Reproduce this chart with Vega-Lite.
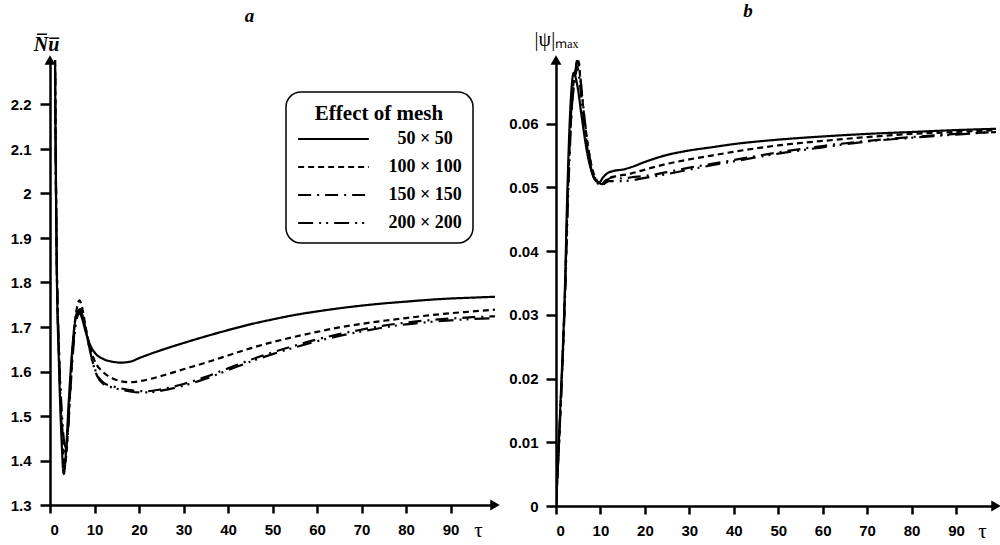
{
  "$schema": "https://vega.github.io/schema/vega-lite/v6.json",
  "background": "white",
  "padding": {"left": 10, "right": 0, "top": 2, "bottom": 0},
  "spacing": 8,
  "config": {
    "view": {"stroke": null},
    "axis": {
      "grid": false,
      "domainColor": "#000000",
      "domainWidth": 2.5,
      "tickColor": "#000000",
      "tickWidth": 2.5,
      "labelFont": "Arial, Liberation Sans, sans-serif",
      "labelFontWeight": "bold",
      "labelFontSize": 15,
      "labelColor": "#000000"
    },
    "title": {"font": "Liberation Serif", "fontSize": 19, "fontWeight": "bold", "fontStyle": "italic", "color": "black"}
  },
  "datasets": {
    "nu": [
      {"tau": 0.8, "nu": 3.0, "mesh": "50 × 50"},
      {"tau": 1.2, "nu": 2.2, "mesh": "50 × 50"},
      {"tau": 1.5, "nu": 1.85, "mesh": "50 × 50"},
      {"tau": 2.0, "nu": 1.62, "mesh": "50 × 50"},
      {"tau": 2.5, "nu": 1.47, "mesh": "50 × 50"},
      {"tau": 3.1, "nu": 1.37, "mesh": "50 × 50"},
      {"tau": 3.6, "nu": 1.42, "mesh": "50 × 50"},
      {"tau": 4.2, "nu": 1.53, "mesh": "50 × 50"},
      {"tau": 5.0, "nu": 1.65, "mesh": "50 × 50"},
      {"tau": 5.6, "nu": 1.71, "mesh": "50 × 50"},
      {"tau": 6.2, "nu": 1.735, "mesh": "50 × 50"},
      {"tau": 7.0, "nu": 1.725, "mesh": "50 × 50"},
      {"tau": 8, "nu": 1.69, "mesh": "50 × 50"},
      {"tau": 9, "nu": 1.66, "mesh": "50 × 50"},
      {"tau": 10, "nu": 1.643, "mesh": "50 × 50"},
      {"tau": 12, "nu": 1.628, "mesh": "50 × 50"},
      {"tau": 14, "nu": 1.622, "mesh": "50 × 50"},
      {"tau": 16, "nu": 1.62, "mesh": "50 × 50"},
      {"tau": 18, "nu": 1.622, "mesh": "50 × 50"},
      {"tau": 20, "nu": 1.63, "mesh": "50 × 50"},
      {"tau": 25, "nu": 1.648, "mesh": "50 × 50"},
      {"tau": 30, "nu": 1.664, "mesh": "50 × 50"},
      {"tau": 35, "nu": 1.679, "mesh": "50 × 50"},
      {"tau": 40, "nu": 1.693, "mesh": "50 × 50"},
      {"tau": 45, "nu": 1.706, "mesh": "50 × 50"},
      {"tau": 50, "nu": 1.717, "mesh": "50 × 50"},
      {"tau": 55, "nu": 1.727, "mesh": "50 × 50"},
      {"tau": 60, "nu": 1.735, "mesh": "50 × 50"},
      {"tau": 65, "nu": 1.742, "mesh": "50 × 50"},
      {"tau": 70, "nu": 1.748, "mesh": "50 × 50"},
      {"tau": 75, "nu": 1.753, "mesh": "50 × 50"},
      {"tau": 80, "nu": 1.757, "mesh": "50 × 50"},
      {"tau": 85, "nu": 1.761, "mesh": "50 × 50"},
      {"tau": 90, "nu": 1.764, "mesh": "50 × 50"},
      {"tau": 95, "nu": 1.766, "mesh": "50 × 50"},
      {"tau": 100, "nu": 1.768, "mesh": "50 × 50"},

      {"tau": 0.8, "nu": 3.0, "mesh": "100 × 100"},
      {"tau": 1.2, "nu": 2.2, "mesh": "100 × 100"},
      {"tau": 1.5, "nu": 1.86, "mesh": "100 × 100"},
      {"tau": 2.0, "nu": 1.64, "mesh": "100 × 100"},
      {"tau": 2.6, "nu": 1.48, "mesh": "100 × 100"},
      {"tau": 3.3, "nu": 1.39, "mesh": "100 × 100"},
      {"tau": 3.8, "nu": 1.43, "mesh": "100 × 100"},
      {"tau": 4.4, "nu": 1.54, "mesh": "100 × 100"},
      {"tau": 5.2, "nu": 1.67, "mesh": "100 × 100"},
      {"tau": 6.0, "nu": 1.74, "mesh": "100 × 100"},
      {"tau": 6.6, "nu": 1.76, "mesh": "100 × 100"},
      {"tau": 7.3, "nu": 1.74, "mesh": "100 × 100"},
      {"tau": 8, "nu": 1.70, "mesh": "100 × 100"},
      {"tau": 9, "nu": 1.655, "mesh": "100 × 100"},
      {"tau": 10, "nu": 1.625, "mesh": "100 × 100"},
      {"tau": 12, "nu": 1.598, "mesh": "100 × 100"},
      {"tau": 14, "nu": 1.585, "mesh": "100 × 100"},
      {"tau": 16, "nu": 1.578, "mesh": "100 × 100"},
      {"tau": 18, "nu": 1.576, "mesh": "100 × 100"},
      {"tau": 20, "nu": 1.578, "mesh": "100 × 100"},
      {"tau": 25, "nu": 1.59, "mesh": "100 × 100"},
      {"tau": 30, "nu": 1.605, "mesh": "100 × 100"},
      {"tau": 35, "nu": 1.62, "mesh": "100 × 100"},
      {"tau": 40, "nu": 1.636, "mesh": "100 × 100"},
      {"tau": 45, "nu": 1.652, "mesh": "100 × 100"},
      {"tau": 50, "nu": 1.666, "mesh": "100 × 100"},
      {"tau": 55, "nu": 1.678, "mesh": "100 × 100"},
      {"tau": 60, "nu": 1.689, "mesh": "100 × 100"},
      {"tau": 65, "nu": 1.699, "mesh": "100 × 100"},
      {"tau": 70, "nu": 1.707, "mesh": "100 × 100"},
      {"tau": 75, "nu": 1.714, "mesh": "100 × 100"},
      {"tau": 80, "nu": 1.72, "mesh": "100 × 100"},
      {"tau": 85, "nu": 1.726, "mesh": "100 × 100"},
      {"tau": 90, "nu": 1.731, "mesh": "100 × 100"},
      {"tau": 95, "nu": 1.735, "mesh": "100 × 100"},
      {"tau": 100, "nu": 1.739, "mesh": "100 × 100"},

      {"tau": 0.8, "nu": 3.0, "mesh": "150 × 150"},
      {"tau": 1.2, "nu": 2.2, "mesh": "150 × 150"},
      {"tau": 1.5, "nu": 1.87, "mesh": "150 × 150"},
      {"tau": 2.0, "nu": 1.65, "mesh": "150 × 150"},
      {"tau": 2.6, "nu": 1.50, "mesh": "150 × 150"},
      {"tau": 3.3, "nu": 1.42, "mesh": "150 × 150"},
      {"tau": 3.9, "nu": 1.45, "mesh": "150 × 150"},
      {"tau": 4.5, "nu": 1.55, "mesh": "150 × 150"},
      {"tau": 5.3, "nu": 1.67, "mesh": "150 × 150"},
      {"tau": 6.1, "nu": 1.73, "mesh": "150 × 150"},
      {"tau": 6.8, "nu": 1.74, "mesh": "150 × 150"},
      {"tau": 7.5, "nu": 1.72, "mesh": "150 × 150"},
      {"tau": 8.5, "nu": 1.67, "mesh": "150 × 150"},
      {"tau": 9.5, "nu": 1.625, "mesh": "150 × 150"},
      {"tau": 10.5, "nu": 1.595, "mesh": "150 × 150"},
      {"tau": 12, "nu": 1.575, "mesh": "150 × 150"},
      {"tau": 14, "nu": 1.567, "mesh": "150 × 150"},
      {"tau": 16, "nu": 1.562, "mesh": "150 × 150"},
      {"tau": 18, "nu": 1.558, "mesh": "150 × 150"},
      {"tau": 20, "nu": 1.556, "mesh": "150 × 150"},
      {"tau": 22, "nu": 1.556, "mesh": "150 × 150"},
      {"tau": 25, "nu": 1.56, "mesh": "150 × 150"},
      {"tau": 30, "nu": 1.572, "mesh": "150 × 150"},
      {"tau": 35, "nu": 1.588, "mesh": "150 × 150"},
      {"tau": 40, "nu": 1.607, "mesh": "150 × 150"},
      {"tau": 45, "nu": 1.626, "mesh": "150 × 150"},
      {"tau": 50, "nu": 1.643, "mesh": "150 × 150"},
      {"tau": 55, "nu": 1.658, "mesh": "150 × 150"},
      {"tau": 60, "nu": 1.672, "mesh": "150 × 150"},
      {"tau": 65, "nu": 1.684, "mesh": "150 × 150"},
      {"tau": 70, "nu": 1.694, "mesh": "150 × 150"},
      {"tau": 75, "nu": 1.703, "mesh": "150 × 150"},
      {"tau": 80, "nu": 1.71, "mesh": "150 × 150"},
      {"tau": 85, "nu": 1.715, "mesh": "150 × 150"},
      {"tau": 90, "nu": 1.719, "mesh": "150 × 150"},
      {"tau": 95, "nu": 1.722, "mesh": "150 × 150"},
      {"tau": 100, "nu": 1.724, "mesh": "150 × 150"},

      {"tau": 0.8, "nu": 3.0, "mesh": "200 × 200"},
      {"tau": 1.2, "nu": 2.2, "mesh": "200 × 200"},
      {"tau": 1.5, "nu": 1.87, "mesh": "200 × 200"},
      {"tau": 2.0, "nu": 1.66, "mesh": "200 × 200"},
      {"tau": 2.7, "nu": 1.50, "mesh": "200 × 200"},
      {"tau": 3.5, "nu": 1.43, "mesh": "200 × 200"},
      {"tau": 4.0, "nu": 1.46, "mesh": "200 × 200"},
      {"tau": 4.6, "nu": 1.56, "mesh": "200 × 200"},
      {"tau": 5.4, "nu": 1.67, "mesh": "200 × 200"},
      {"tau": 6.2, "nu": 1.725, "mesh": "200 × 200"},
      {"tau": 6.9, "nu": 1.735, "mesh": "200 × 200"},
      {"tau": 7.6, "nu": 1.715, "mesh": "200 × 200"},
      {"tau": 8.6, "nu": 1.665, "mesh": "200 × 200"},
      {"tau": 9.6, "nu": 1.62, "mesh": "200 × 200"},
      {"tau": 10.6, "nu": 1.59, "mesh": "200 × 200"},
      {"tau": 12, "nu": 1.572, "mesh": "200 × 200"},
      {"tau": 14, "nu": 1.564, "mesh": "200 × 200"},
      {"tau": 16, "nu": 1.559, "mesh": "200 × 200"},
      {"tau": 18, "nu": 1.555, "mesh": "200 × 200"},
      {"tau": 20, "nu": 1.553, "mesh": "200 × 200"},
      {"tau": 22, "nu": 1.553, "mesh": "200 × 200"},
      {"tau": 25, "nu": 1.557, "mesh": "200 × 200"},
      {"tau": 30, "nu": 1.568, "mesh": "200 × 200"},
      {"tau": 35, "nu": 1.584, "mesh": "200 × 200"},
      {"tau": 40, "nu": 1.603, "mesh": "200 × 200"},
      {"tau": 45, "nu": 1.622, "mesh": "200 × 200"},
      {"tau": 50, "nu": 1.639, "mesh": "200 × 200"},
      {"tau": 55, "nu": 1.654, "mesh": "200 × 200"},
      {"tau": 60, "nu": 1.668, "mesh": "200 × 200"},
      {"tau": 65, "nu": 1.68, "mesh": "200 × 200"},
      {"tau": 70, "nu": 1.69, "mesh": "200 × 200"},
      {"tau": 75, "nu": 1.699, "mesh": "200 × 200"},
      {"tau": 80, "nu": 1.706, "mesh": "200 × 200"},
      {"tau": 85, "nu": 1.711, "mesh": "200 × 200"},
      {"tau": 90, "nu": 1.715, "mesh": "200 × 200"},
      {"tau": 95, "nu": 1.718, "mesh": "200 × 200"},
      {"tau": 100, "nu": 1.72, "mesh": "200 × 200"}
    ],
    "psi": [
      {"tau": 0, "psi": 0, "mesh": "50 × 50"},
      {"tau": 1, "psi": 0.016, "mesh": "50 × 50"},
      {"tau": 2, "psi": 0.034, "mesh": "50 × 50"},
      {"tau": 2.5, "psi": 0.048, "mesh": "50 × 50"},
      {"tau": 3.2, "psi": 0.062, "mesh": "50 × 50"},
      {"tau": 4.0, "psi": 0.068, "mesh": "50 × 50"},
      {"tau": 4.8, "psi": 0.066, "mesh": "50 × 50"},
      {"tau": 5.8, "psi": 0.061, "mesh": "50 × 50"},
      {"tau": 7.0, "psi": 0.0555, "mesh": "50 × 50"},
      {"tau": 8.0, "psi": 0.0525, "mesh": "50 × 50"},
      {"tau": 9.0, "psi": 0.051, "mesh": "50 × 50"},
      {"tau": 9.8, "psi": 0.0508, "mesh": "50 × 50"},
      {"tau": 10.5, "psi": 0.0515, "mesh": "50 × 50"},
      {"tau": 11.5, "psi": 0.0522, "mesh": "50 × 50"},
      {"tau": 13, "psi": 0.0526, "mesh": "50 × 50"},
      {"tau": 15, "psi": 0.0528, "mesh": "50 × 50"},
      {"tau": 17, "psi": 0.0532, "mesh": "50 × 50"},
      {"tau": 20, "psi": 0.054, "mesh": "50 × 50"},
      {"tau": 25, "psi": 0.0551, "mesh": "50 × 50"},
      {"tau": 30, "psi": 0.0558, "mesh": "50 × 50"},
      {"tau": 35, "psi": 0.0563, "mesh": "50 × 50"},
      {"tau": 40, "psi": 0.0568, "mesh": "50 × 50"},
      {"tau": 50, "psi": 0.0575, "mesh": "50 × 50"},
      {"tau": 60, "psi": 0.058, "mesh": "50 × 50"},
      {"tau": 70, "psi": 0.0584, "mesh": "50 × 50"},
      {"tau": 80, "psi": 0.0587, "mesh": "50 × 50"},
      {"tau": 90, "psi": 0.059, "mesh": "50 × 50"},
      {"tau": 99, "psi": 0.0592, "mesh": "50 × 50"},

      {"tau": 0, "psi": 0, "mesh": "100 × 100"},
      {"tau": 1, "psi": 0.015, "mesh": "100 × 100"},
      {"tau": 2, "psi": 0.033, "mesh": "100 × 100"},
      {"tau": 2.7, "psi": 0.05, "mesh": "100 × 100"},
      {"tau": 3.5, "psi": 0.063, "mesh": "100 × 100"},
      {"tau": 4.3, "psi": 0.068, "mesh": "100 × 100"},
      {"tau": 4.9, "psi": 0.0702, "mesh": "100 × 100"},
      {"tau": 5.5, "psi": 0.067, "mesh": "100 × 100"},
      {"tau": 6.2, "psi": 0.062, "mesh": "100 × 100"},
      {"tau": 7.2, "psi": 0.0565, "mesh": "100 × 100"},
      {"tau": 8.2, "psi": 0.0528, "mesh": "100 × 100"},
      {"tau": 9.2, "psi": 0.0511, "mesh": "100 × 100"},
      {"tau": 10.2, "psi": 0.0504, "mesh": "100 × 100"},
      {"tau": 11, "psi": 0.051, "mesh": "100 × 100"},
      {"tau": 12, "psi": 0.0515, "mesh": "100 × 100"},
      {"tau": 14, "psi": 0.0518, "mesh": "100 × 100"},
      {"tau": 17, "psi": 0.0522, "mesh": "100 × 100"},
      {"tau": 20, "psi": 0.0528, "mesh": "100 × 100"},
      {"tau": 25, "psi": 0.0537, "mesh": "100 × 100"},
      {"tau": 30, "psi": 0.0544, "mesh": "100 × 100"},
      {"tau": 35, "psi": 0.055, "mesh": "100 × 100"},
      {"tau": 40, "psi": 0.0556, "mesh": "100 × 100"},
      {"tau": 50, "psi": 0.0566, "mesh": "100 × 100"},
      {"tau": 60, "psi": 0.0573, "mesh": "100 × 100"},
      {"tau": 70, "psi": 0.0579, "mesh": "100 × 100"},
      {"tau": 80, "psi": 0.0584, "mesh": "100 × 100"},
      {"tau": 90, "psi": 0.0587, "mesh": "100 × 100"},
      {"tau": 99, "psi": 0.059, "mesh": "100 × 100"},

      {"tau": 0, "psi": 0, "mesh": "150 × 150"},
      {"tau": 1, "psi": 0.015, "mesh": "150 × 150"},
      {"tau": 2, "psi": 0.033, "mesh": "150 × 150"},
      {"tau": 2.7, "psi": 0.05, "mesh": "150 × 150"},
      {"tau": 3.5, "psi": 0.062, "mesh": "150 × 150"},
      {"tau": 4.3, "psi": 0.067, "mesh": "150 × 150"},
      {"tau": 4.8, "psi": 0.069, "mesh": "150 × 150"},
      {"tau": 5.4, "psi": 0.066, "mesh": "150 × 150"},
      {"tau": 6.2, "psi": 0.061, "mesh": "150 × 150"},
      {"tau": 7.2, "psi": 0.0555, "mesh": "150 × 150"},
      {"tau": 8.2, "psi": 0.0522, "mesh": "150 × 150"},
      {"tau": 9.2, "psi": 0.0508, "mesh": "150 × 150"},
      {"tau": 10.3, "psi": 0.0503, "mesh": "150 × 150"},
      {"tau": 11.5, "psi": 0.0512, "mesh": "150 × 150"},
      {"tau": 13, "psi": 0.0516, "mesh": "150 × 150"},
      {"tau": 15, "psi": 0.0514, "mesh": "150 × 150"},
      {"tau": 17, "psi": 0.0516, "mesh": "150 × 150"},
      {"tau": 20, "psi": 0.0518, "mesh": "150 × 150"},
      {"tau": 25, "psi": 0.0524, "mesh": "150 × 150"},
      {"tau": 30, "psi": 0.0531, "mesh": "150 × 150"},
      {"tau": 35, "psi": 0.0537, "mesh": "150 × 150"},
      {"tau": 40, "psi": 0.0543, "mesh": "150 × 150"},
      {"tau": 50, "psi": 0.0555, "mesh": "150 × 150"},
      {"tau": 60, "psi": 0.0565, "mesh": "150 × 150"},
      {"tau": 70, "psi": 0.0573, "mesh": "150 × 150"},
      {"tau": 80, "psi": 0.0579, "mesh": "150 × 150"},
      {"tau": 90, "psi": 0.0584, "mesh": "150 × 150"},
      {"tau": 99, "psi": 0.0587, "mesh": "150 × 150"},

      {"tau": 0, "psi": 0, "mesh": "200 × 200"},
      {"tau": 1, "psi": 0.015, "mesh": "200 × 200"},
      {"tau": 2, "psi": 0.032, "mesh": "200 × 200"},
      {"tau": 2.8, "psi": 0.05, "mesh": "200 × 200"},
      {"tau": 3.6, "psi": 0.063, "mesh": "200 × 200"},
      {"tau": 4.4, "psi": 0.0685, "mesh": "200 × 200"},
      {"tau": 5.0, "psi": 0.0702, "mesh": "200 × 200"},
      {"tau": 5.6, "psi": 0.0665, "mesh": "200 × 200"},
      {"tau": 6.4, "psi": 0.061, "mesh": "200 × 200"},
      {"tau": 7.4, "psi": 0.0555, "mesh": "200 × 200"},
      {"tau": 8.4, "psi": 0.0522, "mesh": "200 × 200"},
      {"tau": 9.4, "psi": 0.0509, "mesh": "200 × 200"},
      {"tau": 10.5, "psi": 0.0505, "mesh": "200 × 200"},
      {"tau": 12, "psi": 0.051, "mesh": "200 × 200"},
      {"tau": 15, "psi": 0.051, "mesh": "200 × 200"},
      {"tau": 20, "psi": 0.0515, "mesh": "200 × 200"},
      {"tau": 25, "psi": 0.0521, "mesh": "200 × 200"},
      {"tau": 30, "psi": 0.0528, "mesh": "200 × 200"},
      {"tau": 40, "psi": 0.0541, "mesh": "200 × 200"},
      {"tau": 50, "psi": 0.0553, "mesh": "200 × 200"},
      {"tau": 60, "psi": 0.0563, "mesh": "200 × 200"},
      {"tau": 70, "psi": 0.0572, "mesh": "200 × 200"},
      {"tau": 80, "psi": 0.0578, "mesh": "200 × 200"},
      {"tau": 90, "psi": 0.0583, "mesh": "200 × 200"},
      {"tau": 99, "psi": 0.0587, "mesh": "200 × 200"}
    ],
    "arrowsA": [
      {"tau": 0, "nu": 2.3, "shape": "triangle-up"},
      {"tau": 100, "nu": 1.3, "shape": "triangle-right"}
    ],
    "arrowsB": [
      {"tau": 0, "psi": 0.07, "shape": "triangle-up"},
      {"tau": 99, "psi": 0, "shape": "triangle-right"}
    ]
  },
  "hconcat": [
    {
      "title": {"text": "a", "anchor": "middle", "dx": -23, "offset": 8},
      "width": 445,
      "height": 445,
      "layer": [
        {
          "data": {"name": "nu"},
          "mark": {"type": "line", "clip": true, "color": "black", "strokeWidth": 2.2, "interpolate": "monotone"},
          "encoding": {
            "x": {"field": "tau", "type": "quantitative", "scale": {"domain": [0, 100], "nice": false},
              "axis": {"values": [0, 10, 20, 30, 40, 50, 60, 70, 80, 90], "title": "τ", "titleFont": "Liberation Serif", "titleFontSize": 21, "titleFontWeight": "normal", "titleColor": "black", "titleX": 428, "titleY": 25, "titleBaseline": "middle", "titleAlign": "center", "tickSize": 8, "labelPadding": 9, "domainWidth": 2.5, "domainColor": "black", "tickWidth": 2.5, "tickColor": "black", "labelFont": "Arial, Liberation Sans, sans-serif", "labelFontWeight": "bold", "labelFontSize": 15, "labelColor": "black"}},
            "y": {"field": "nu", "type": "quantitative", "scale": {"domain": [1.3, 2.3], "nice": false, "zero": false},
              "axis": {"values": [1.3, 1.4, 1.5, 1.6, 1.7, 1.8, 1.9, 2.0, 2.1, 2.2], "format": ".1~f", "title": "N̅u̅", "titleFont": "Liberation Serif", "titleFontSize": 20, "titleFontWeight": "bold", "titleFontStyle": "italic", "titleColor": "black", "titleAngle": 0, "titleX": -4, "titleY": -10, "titleAlign": "center", "titleBaseline": "alphabetic", "tickSize": 10, "labelPadding": 9, "domainWidth": 2.5, "domainColor": "black", "tickWidth": 2.5, "tickColor": "black", "labelFont": "Arial, Liberation Sans, sans-serif", "labelFontWeight": "bold", "labelFontSize": 15, "labelColor": "black"}},
            "strokeDash": {"field": "mesh", "type": "nominal",
              "scale": {"domain": ["50 × 50", "100 × 100", "150 × 150", "200 × 200"], "range": [[1, 0], [6, 4], [13, 6, 2, 6], [15, 6, 2, 5, 2, 6]]},
              "legend": {"orient": "none", "legendX": 236, "legendY": 32, "title": "Effect of mesh", "titleFont": "Liberation Serif", "titleFontSize": 21, "titleFontWeight": "bold", "titleColor": "black", "titleAnchor": "middle", "titlePadding": 6, "symbolType": "stroke", "symbolSize": 5000, "clipHeight": 18, "symbolStrokeWidth": 2.2, "symbolStrokeColor": "black", "labelFont": "Liberation Serif", "labelFontSize": 18, "labelFontWeight": "bold", "labelColor": "black", "labelAlign": "center", "labelOffset": 55, "rowPadding": 10, "padding": 11, "strokeColor": "black", "cornerRadius": 15, "fillColor": "white", "labelLimit": 200,
                "encode": {"legend": {"update": {"strokeWidth": {"value": 1.5}}}}}}
          }
        },
        {
          "data": {"name": "arrowsA"},
          "mark": {"type": "point", "filled": true, "color": "black", "size": 120, "opacity": 1},
          "encoding": {
            "x": {"field": "tau", "type": "quantitative"},
            "y": {"field": "nu", "type": "quantitative"},
            "shape": {"field": "shape", "type": "nominal", "scale": null, "legend": null}
          }
        }
      ]
    },
    {
      "title": {"text": "b", "anchor": "middle", "dx": -28, "offset": 8},
      "width": 440,
      "height": 446,
      "layer": [
        {
          "data": {"name": "psi"},
          "mark": {"type": "line", "clip": true, "color": "black", "strokeWidth": 2.2, "interpolate": "monotone"},
          "encoding": {
            "x": {"field": "tau", "type": "quantitative", "scale": {"domain": [0, 99], "nice": false},
              "axis": {"values": [0, 10, 20, 30, 40, 50, 60, 70, 80, 90], "title": "τ", "titleFont": "Liberation Serif", "titleFontSize": 21, "titleFontWeight": "normal", "titleColor": "black", "titleX": 426, "titleY": 25, "titleBaseline": "middle", "titleAlign": "center", "tickSize": 8, "labelPadding": 9, "domainWidth": 2.5, "domainColor": "black", "tickWidth": 2.5, "tickColor": "black", "labelFont": "Arial, Liberation Sans, sans-serif", "labelFontWeight": "bold", "labelFontSize": 15, "labelColor": "black"}},
            "y": {"field": "psi", "type": "quantitative", "scale": {"domain": [0, 0.07], "nice": false},
              "axis": {"values": [0, 0.01, 0.02, 0.03, 0.04, 0.05, 0.06], "format": ".2~f", "title": "|ψ|ₘₐₓ", "titleFont": "Liberation Serif", "titleFontSize": 20, "titleFontWeight": "normal", "titleColor": "black", "titleAngle": 0, "titleX": 0, "titleY": -15, "titleAlign": "center", "titleBaseline": "alphabetic", "tickSize": 10, "labelPadding": 8, "domainWidth": 2.5, "domainColor": "black", "tickWidth": 2.5, "tickColor": "black", "labelFont": "Arial, Liberation Sans, sans-serif", "labelFontWeight": "bold", "labelFontSize": 15, "labelColor": "black"}},
            "strokeDash": {"field": "mesh", "type": "nominal",
              "scale": {"domain": ["50 × 50", "100 × 100", "150 × 150", "200 × 200"], "range": [[1, 0], [6, 4], [13, 6, 2, 6], [15, 6, 2, 5, 2, 6]]},
              "legend": null}
          }
        },
        {
          "data": {"name": "arrowsB"},
          "mark": {"type": "point", "filled": true, "color": "black", "size": 120, "opacity": 1},
          "encoding": {
            "x": {"field": "tau", "type": "quantitative"},
            "y": {"field": "psi", "type": "quantitative"},
            "shape": {"field": "shape", "type": "nominal", "scale": null, "legend": null}
          }
        }
      ]
    }
  ],
  "resolve": {"scale": {"strokeDash": "independent"}, "legend": {"strokeDash": "independent"}}
}
